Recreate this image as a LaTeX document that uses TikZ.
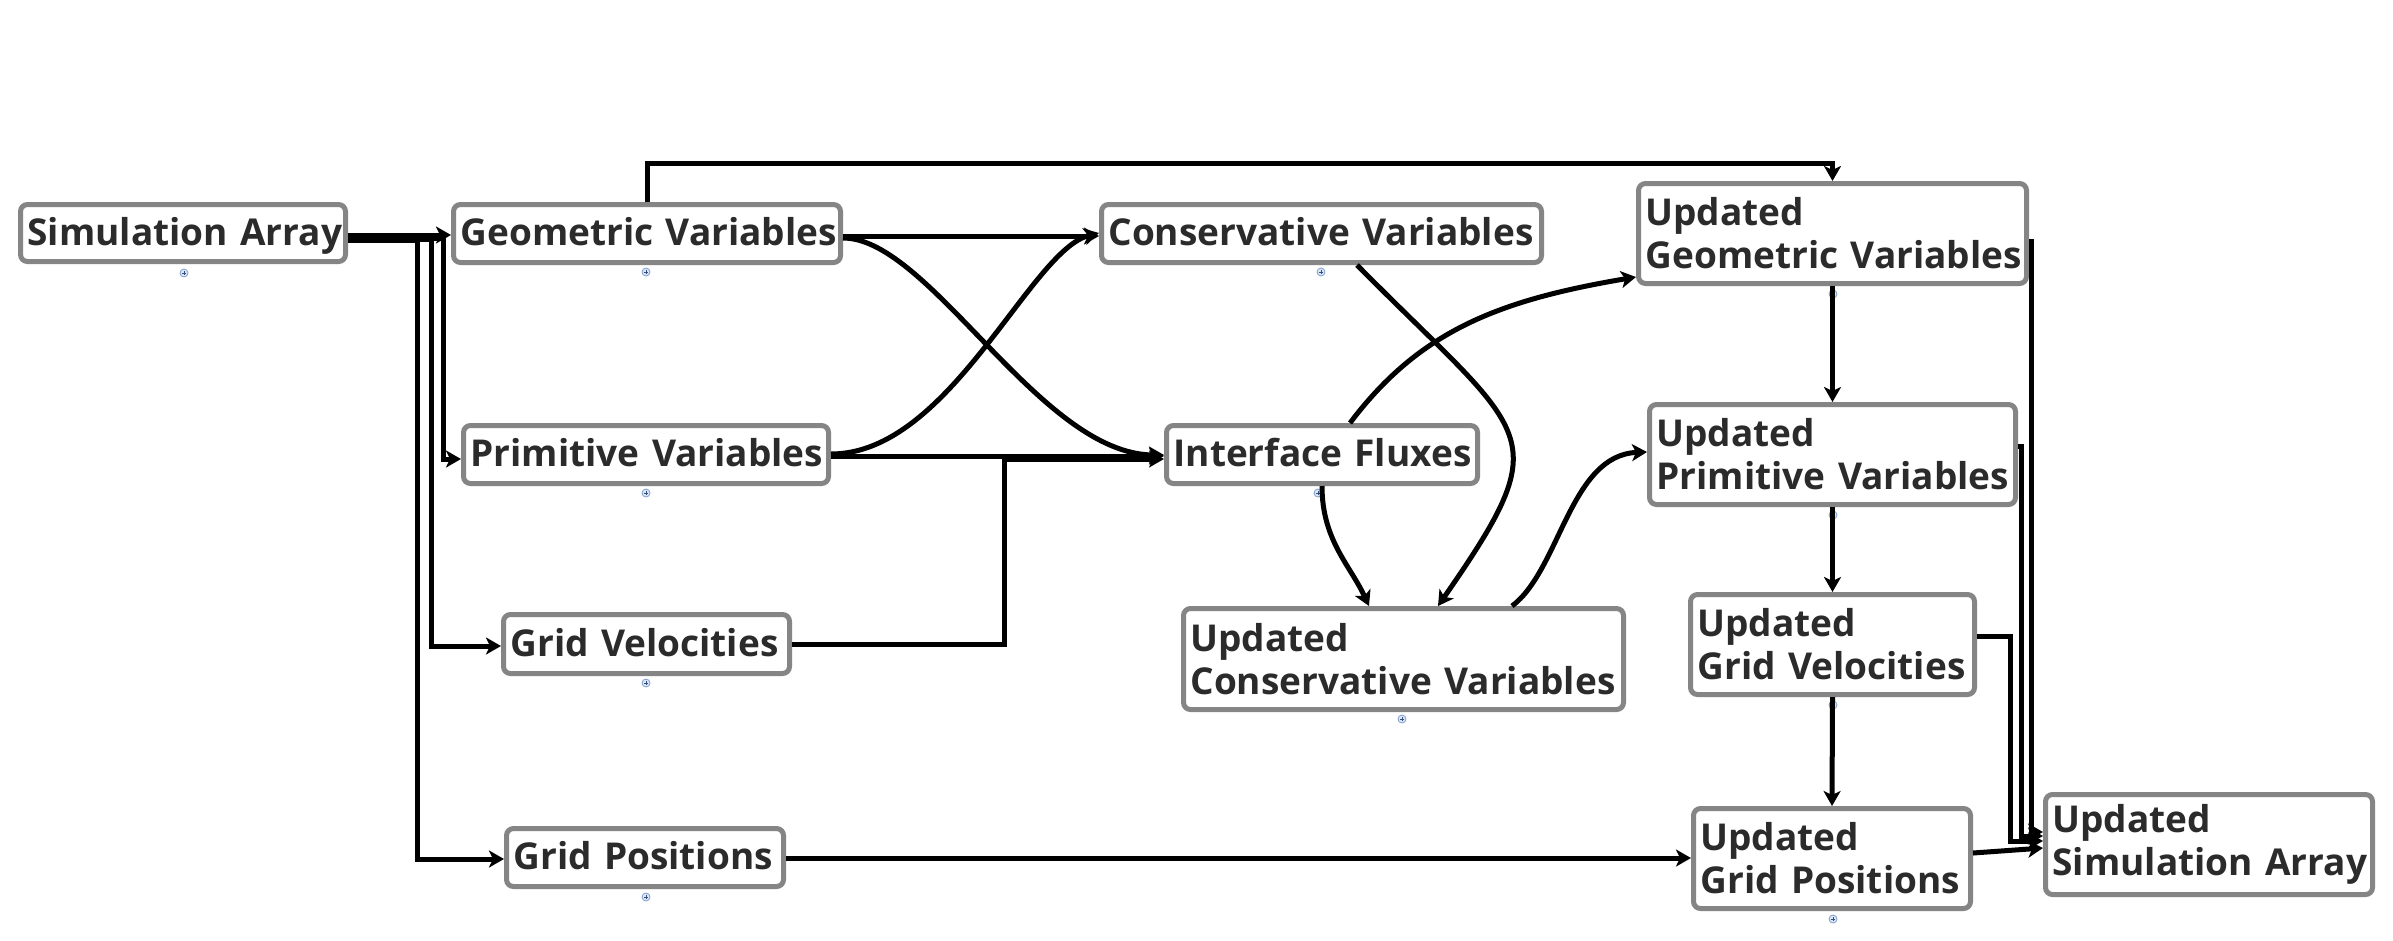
\documentclass[tikz,border=0pt]{standalone}
\usepackage{fontspec}
\setsansfont{Open Sans}
\usetikzlibrary{arrows.meta,calc}
\definecolor{boxgray}{HTML}{858585}
\definecolor{textgray}{HTML}{2B2B2B}
\definecolor{mkfill}{HTML}{DCE7F6}
\definecolor{mkline}{HTML}{7F9FCF}
\definecolor{mkdark}{HTML}{34507A}
\newcommand{\boxfont}{\sffamily\bfseries\fontsize{37}{43}\selectfont}
\tikzset{
  bx/.style={draw=boxgray, line width=5pt, rounded corners=7pt, fill=white,
    inner xsep=7pt, inner ysep=0pt, align=left, font=\boxfont, text=textgray},
  one/.style={text height=33pt, text depth=9pt},
  ar/.style={draw=black, line width=5pt,
    -{Stealth[length=15pt,width=17pt,inset=4pt]}},
  mk/.style={circle, draw=mkline, fill=mkfill, line width=0.8pt,
    minimum size=8pt, inner sep=0pt,
    path picture={\draw[mkdark,line width=0.7pt]
      ([xshift=-2.2pt]path picture bounding box.center) -- ([xshift=2.2pt]path picture bounding box.center)
      ([yshift=-2.2pt]path picture bounding box.center) -- ([yshift=2.2pt]path picture bounding box.center);}}
}
\begin{document}
\begin{tikzpicture}[x=1pt,y=-1pt]
\useasboundingbox[fill=white] (0,0) rectangle (2393,940);

% nodes
\node[bx, one, text width=311pt, minimum height=57pt] (SA) at (183,233) {\mbox{Simulation Array}};
\node[bx, one, text width=373pt, minimum height=58pt] (GV) at (647,233.5) {\mbox{Geometric Variables}};
\node[bx, one, text width=351pt, minimum height=58pt] (PV) at (646,454.5) {\mbox{Primitive Variables}};
\node[bx, one, text width=272pt, minimum height=59pt] (GridV) at (646.5,644) {\mbox{Grid Velocities}};
\node[bx, one, text width=263pt, minimum height=58pt] (GridP) at (645,857.5) {\mbox{Grid Positions}};
\node[bx, one, text width=426pt, minimum height=58pt] (CV) at (1321.5,233.5) {\mbox{Conservative Variables}};
\node[bx, one, text width=297pt, minimum height=58pt] (IF) at (1322,454.5) {\mbox{Interface Fluxes}};
\node[bx, text width=426pt, minimum height=101pt] (UCV) at (1403.5,659) {\mbox{Updated}\\\mbox{Conservative Variables}};
\node[bx, text width=374pt, minimum height=100pt] (UGV) at (1832.5,233.5) {\mbox{Updated}\\\mbox{Geometric Variables}};
\node[bx, text width=352pt, minimum height=100pt] (UPV) at (1832.5,454.5) {\mbox{Updated}\\\mbox{Primitive Variables}};
\node[bx, text width=270pt, minimum height=100pt] (UGridV) at (1832.5,644.5) {\mbox{Updated}\\\mbox{Grid Velocities}};
\node[bx, text width=263pt, minimum height=100pt] (UGridP) at (1832,858.5) {\mbox{Updated}\\\mbox{Grid Positions}};
\node[bx, text width=313pt, minimum height=100pt] (USA) at (2209,844.5) {\mbox{Updated}\\\mbox{Simulation Array}};

% expand markers
\node[mk] (mSA) at (184,273) {};
\node[mk] (mGV) at (646,272) {};
\node[mk] (mPV) at (646,493) {};
\node[mk] (mGridV) at (646,683) {};
\node[mk] (mGridP) at (646,897) {};
\node[mk] (mCV) at (1321,272) {};
\node[mk] (mIF) at (1318,493) {};
\node[mk] (mUCV) at (1402,719) {};
\node[mk] (mUGV) at (1833,294) {};
\node[mk] (mUPV) at (1833,515) {};
\node[mk] (mUGridV) at (1833,705) {};
\node[mk] (mUGridP) at (1833,919) {};

% connectors from Simulation Array
\draw[ar] (SA.east |- 0,240) -| (417,859) -- (GridP.west |- 0,859);
\draw[ar] (SA.east |- 0,239) -| (431,646) -- (GridV.west |- 0,646);
\draw[ar] (SA.east |- 0,238) -| (443,459) -- (PV.west |- 0,459);
\draw[ar] (SA.east |- 0,235) -- (GV.west |- 0,235);

% Geometric Variables
\draw[ar] (GV.north) -- (GV.north |- 0,163) -| (UGV.north);
\draw[ar] (GV.east |- 0,236) -- (CV.west |- 0,236);
\draw[ar] (GV.east |- 0,238) .. controls (930,238) and (1040,455) .. (IF.west |- 0,455);

% Primitive Variables
\draw[ar] (PV.east |- 0,454) .. controls (950,454) and (1030,250) .. (CV.west |- 0,233);
\draw[ar] (PV.east |- 0,456) -- (IF.west |- 0,456);

% Grid Velocities
\draw[ar] (GridV.east) -| (1004,459) -- (IF.west |- 0,459);

% Conservative / Interface Fluxes
\draw[ar] (CV.south -| 1357,0) .. controls (1530,440) and (1560,430) .. (UCV.north -| 1438,0);
\draw[ar] (IF.south -| 1322,0) .. controls (1322,540) and (1350,565) .. (UCV.north -| 1369,0);
\draw[ar] (IF.north -| 1350,0) .. controls (1420,330) and (1500,300) .. (UGV.west |- 0,277);
\draw[ar] (UCV.north -| 1512,0) .. controls (1560,570) and (1570,455) .. (UPV.west |- 0,452);

% Updated chain
\draw[ar] (UGV.south) -- (UPV.north);
\draw[ar] (UPV.south) -- (UGridV.north);
\draw[ar] (UGridV.south) -- (UGridP.north);

% Grid positions
\draw[ar] (GridP.east |- 0,858) -- (UGridP.west |- 0,858);
\draw[ar] (UGridP.east |- 0,853) -- (USA.west |- 0,848);

% into Updated Simulation Array
\draw[ar] (UGV.east |- 0,241) -| (2031,832) -- (USA.west |- 0,832);
\draw[ar] (UPV.east |- 0,446) -| (2021,836) -- (USA.west |- 0,836);
\draw[ar] (UGridV.east |- 0,636) -| (2010,841) -- (USA.west |- 0,841);
\end{tikzpicture}
\end{document}
